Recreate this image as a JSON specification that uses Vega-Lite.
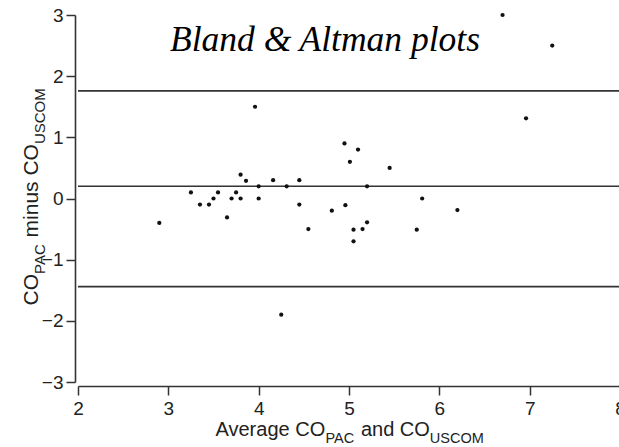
{
  "$schema": "https://vega.github.io/schema/vega-lite/v6.json",
  "width": 542,
  "height": 367,
  "autosize": {"type": "none"},
  "padding": {"left": 78, "top": 15, "right": 0, "bottom": 65},
  "background": "white",
  "config": {
    "view": {"stroke": null},
    "axis": {
      "grid": false,
      "labelFont": "Liberation Sans",
      "titleFont": "Liberation Sans",
      "labelColor": "#222",
      "titleColor": "#222",
      "domainColor": "#333",
      "tickColor": "#333",
      "titleFontWeight": "normal"
    }
  },
  "title": {
    "text": "Bland & Altman plots",
    "font": "Liberation Serif",
    "fontStyle": "italic",
    "fontWeight": "normal",
    "fontSize": 35.5,
    "color": "#000",
    "anchor": "start",
    "frame": "group",
    "baseline": "alphabetic",
    "offset": 0,
    "dx": 92,
    "dy": 80
  },
  "datasets": {
    "points": [
      {"avg": 2.9, "diff": -0.4},
      {"avg": 3.25, "diff": 0.1},
      {"avg": 3.35, "diff": -0.1},
      {"avg": 3.45, "diff": -0.1},
      {"avg": 3.5, "diff": 0.0},
      {"avg": 3.55, "diff": 0.1},
      {"avg": 3.65, "diff": -0.31},
      {"avg": 3.7, "diff": 0.0},
      {"avg": 3.75, "diff": 0.1},
      {"avg": 3.8, "diff": 0.39},
      {"avg": 3.8, "diff": 0.0},
      {"avg": 3.86, "diff": 0.29},
      {"avg": 3.96, "diff": 1.5},
      {"avg": 4.0, "diff": 0.2},
      {"avg": 4.0, "diff": 0.0},
      {"avg": 4.16, "diff": 0.3},
      {"avg": 4.25, "diff": -1.9},
      {"avg": 4.31, "diff": 0.2},
      {"avg": 4.45, "diff": 0.3},
      {"avg": 4.45, "diff": -0.1},
      {"avg": 4.55, "diff": -0.5},
      {"avg": 4.81, "diff": -0.2},
      {"avg": 4.95, "diff": 0.9},
      {"avg": 4.96, "diff": -0.11},
      {"avg": 5.01, "diff": 0.6},
      {"avg": 5.05, "diff": -0.51},
      {"avg": 5.05, "diff": -0.7},
      {"avg": 5.1, "diff": 0.8},
      {"avg": 5.15, "diff": -0.5},
      {"avg": 5.2, "diff": -0.39},
      {"avg": 5.2, "diff": 0.2},
      {"avg": 5.45, "diff": 0.5},
      {"avg": 5.75, "diff": -0.51},
      {"avg": 5.81, "diff": 0.0},
      {"avg": 6.2, "diff": -0.19},
      {"avg": 6.7, "diff": 3.0},
      {"avg": 6.96, "diff": 1.31},
      {"avg": 7.25, "diff": 2.5}
    ],
    "limits": [
      {"line": "upper limit", "value": 1.76},
      {"line": "mean difference", "value": 0.2},
      {"line": "lower limit", "value": -1.44}
    ]
  },
  "layer": [
    {
      "data": {"name": "limits"},
      "mark": {"type": "rule", "color": "#333", "strokeWidth": 1.6},
      "encoding": {
        "y": {"field": "value", "type": "quantitative", "axis": null}
      }
    },
    {
      "data": {"name": "points"},
      "mark": {"type": "circle", "size": 18, "color": "#111", "opacity": 1},
      "encoding": {
        "x": {
          "field": "avg", "type": "quantitative",
          "scale": {"domain": [2, 8], "nice": false, "zero": false},
          "axis": {
            "orient": "bottom", "offset": 4, "tickSize": 9, "labelPadding": 4,
            "labelFontSize": 19, "labelFlush": false, "values": [2, 3, 4, 5, 6, 7, 8],
            "domainWidth": 1.6, "tickWidth": 1.5,
            "title": "Average CO", "titleFontSize": 20, "titleX": 137, "titleY": 49.7,
            "titleAlign": "left", "titleBaseline": "alphabetic", "titleAngle": 0
          }
        },
        "y": {
          "field": "diff", "type": "quantitative",
          "scale": {"domain": [-3, 3], "nice": false, "zero": false},
          "axis": {
            "orient": "left", "offset": 3, "tickSize": 9, "labelPadding": 3,
            "labelFontSize": 19, "values": [-3, -2, -1, 0, 1, 2, 3],
            "domainWidth": 1.6, "tickWidth": 1.5,
            "title": "CO", "titleFontSize": 21, "titleAngle": -90, "titleX": -37.5, "titleY": 290,
            "titleAlign": "left", "titleBaseline": "alphabetic"
          }
        }
      }
    },
    {
      "data": {"name": "points"},
      "mark": {"type": "circle", "opacity": 0},
      "encoding": {
        "x": {
          "field": "avg", "type": "quantitative",
          "axis": {
            "orient": "bottom", "offset": 4, "domain": false, "ticks": false, "labels": false,
            "title": "PAC", "titleFontSize": 14.5, "titleX": 247, "titleY": 56.3,
            "titleAlign": "left", "titleBaseline": "alphabetic", "titleAngle": 0
          }
        },
        "y": {
          "field": "diff", "type": "quantitative",
          "axis": {
            "orient": "left", "offset": 3, "domain": false, "ticks": false, "labels": false,
            "title": "PAC", "titleFontSize": 15, "titleAngle": -90, "titleX": -31, "titleY": 258.5,
            "titleAlign": "left", "titleBaseline": "alphabetic"
          }
        }
      }
    },
    {
      "data": {"name": "points"},
      "mark": {"type": "circle", "opacity": 0},
      "encoding": {
        "x": {
          "field": "avg", "type": "quantitative",
          "axis": {
            "orient": "bottom", "offset": 4, "domain": false, "ticks": false, "labels": false,
            "title": "and CO", "titleFontSize": 20, "titleX": 282.4, "titleY": 49.7,
            "titleAlign": "left", "titleBaseline": "alphabetic", "titleAngle": 0
          }
        },
        "y": {
          "field": "diff", "type": "quantitative",
          "axis": {
            "orient": "left", "offset": 3, "domain": false, "ticks": false, "labels": false,
            "title": "minus CO", "titleFontSize": 21, "titleAngle": -90, "titleX": -37.5, "titleY": 221.9,
            "titleAlign": "left", "titleBaseline": "alphabetic"
          }
        }
      }
    },
    {
      "data": {"name": "points"},
      "mark": {"type": "circle", "opacity": 0},
      "encoding": {
        "x": {
          "field": "avg", "type": "quantitative",
          "axis": {
            "orient": "bottom", "offset": 4, "domain": false, "ticks": false, "labels": false,
            "title": "USCOM", "titleFontSize": 14.5, "titleX": 351.3, "titleY": 56.3,
            "titleAlign": "left", "titleBaseline": "alphabetic", "titleAngle": 0
          }
        },
        "y": {
          "field": "diff", "type": "quantitative",
          "axis": {
            "orient": "left", "offset": 3, "domain": false, "ticks": false, "labels": false,
            "title": "USCOM", "titleFontSize": 15, "titleAngle": -90, "titleX": -31, "titleY": 128.6,
            "titleAlign": "left", "titleBaseline": "alphabetic"
          }
        }
      }
    }
  ],
  "resolve": {"axis": {"x": "independent", "y": "independent"}}
}
